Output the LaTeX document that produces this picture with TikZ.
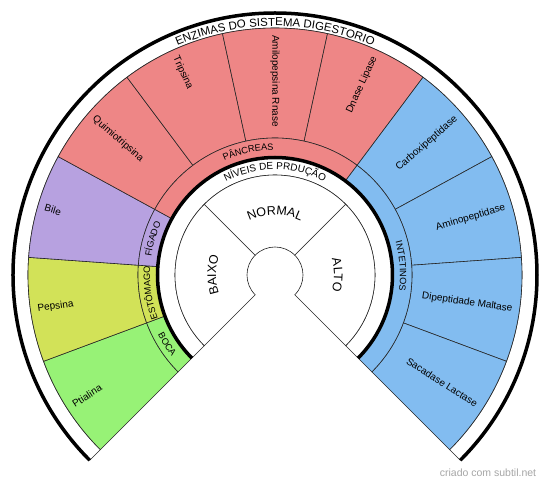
\documentclass[tikz,border=0pt]{standalone}
\usepackage{fontspec}
\setmainfont{Liberation Sans}
\usetikzlibrary{decorations.text}
\definecolor{cgreen}{HTML}{97F276}
\definecolor{cyellow}{HTML}{D2E258}
\definecolor{clav}{HTML}{B7A1E0}
\definecolor{csalmon}{HTML}{EE8686}
\definecolor{cblue}{HTML}{82BCF0}
\newcommand\ftitle{\fontsize{11.5}{12}\selectfont}
\newcommand\fniv{\fontsize{10}{11}\selectfont}
\newcommand\forg{\fontsize{9.2}{10}\selectfont}
\newcommand\flvl{\fontsize{12.5}{13}\selectfont}
% sector: a1 a2 r1 r2 fill
\newcommand\ringsec[5]{\draw[sl,fill=#5] (#1:#3pt) arc[start angle=#1,end angle=#2,radius=#3pt] -- (#2:#4pt) arc[start angle=#2,end angle=#1,radius=#4pt] -- cycle;}
% clockwise text: centre angle, half span, baseline radius, font, text
\newcommand\cwtext[5]{\path[decorate,decoration={text along path,text align=center,text={|#4|#5}}] ({#1+#2}:#3pt) arc[start angle={#1+#2},end angle={#1-#2},radius=#3pt];}
\newcommand\ccwtext[5]{\path[decorate,decoration={text along path,text align=center,text={|#4|#5}}] ({#1-#2}:#3pt) arc[start angle={#1-#2},end angle={#1+#2},radius=#3pt];}
\begin{document}
\begin{tikzpicture}[x=1pt,y=1pt,
  sl/.style={draw=black!85,line width=0.6pt},
  thick arc/.style={line width=3.5pt,draw=black},
  enzl/.style={font=\fontsize{10}{12}\selectfont,inner sep=0pt,anchor=west},
  enzr/.style={font=\fontsize{10}{12}\selectfont,inner sep=0pt,anchor=east}]
\fill[white] (-275,-207) rectangle (275,275);
\useasboundingbox (-275,-207) rectangle (275,275);
% title band
\ringsec{225}{-45}{247}{262}{white}
\draw[thick arc] (225:262pt) arc[start angle=225,end angle=-45,radius=262pt];
% enzyme ring
\ringsec{225}{200.4545}{137}{247}{cgreen}
\ringsec{200.4545}{175.9091}{137}{247}{cyellow}
\ringsec{175.9091}{151.3636}{137}{247}{clav}
\ringsec{151.3636}{126.8182}{137}{247}{csalmon}
\ringsec{126.8182}{102.2727}{137}{247}{csalmon}
\ringsec{102.2727}{77.7273}{137}{247}{csalmon}
\ringsec{77.7273}{53.1818}{137}{247}{csalmon}
\ringsec{53.1818}{28.6364}{137}{247}{cblue}
\ringsec{28.6364}{4.0909}{137}{247}{cblue}
\ringsec{4.0909}{-20.4545}{137}{247}{cblue}
\ringsec{-20.4545}{-45}{137}{247}{cblue}
% organ ring
\ringsec{225}{200.4545}{118}{137}{cgreen}
\ringsec{200.4545}{175.9091}{118}{137}{cyellow}
\ringsec{175.9091}{151.3636}{118}{137}{clav}
\ringsec{151.3636}{53.1818}{118}{137}{csalmon}
\ringsec{53.1818}{-45}{118}{137}{cblue}
% levels band
\ringsec{225}{-45}{100}{118}{white}
\draw[thick arc] (225:117.5pt) arc[start angle=225,end angle=-45,radius=117.5pt];
% level sectors
\ringsec{225}{135}{28}{100}{white}
\ringsec{135}{45}{28}{100}{white}
\ringsec{45}{-45}{28}{100}{white}
% enzyme labels
\node[enzl,rotate=32.7273] (ptialina) at (212.7273:240pt) {Ptialina};
\node[enzl,rotate=8.1818] (pepsina) at (188.1818:240pt) {Pepsina};
\node[enzl,rotate=-16.3636] (bile) at (163.6364:240pt) {Bile};
\node[enzl,rotate=-40.9091] (quimio) at (139.0909:240pt) {Quimiotripsina};
\node[enzl,rotate=-65.4545] (tripsina) at (114.5455:240pt) {Tripsina};
\node[enzl,rotate=-90] (amilo) at (90:240pt) {Amilopepsina Rnase};
\node[enzr,rotate=65.4545] (dnase) at (65.4545:240pt) {Dnase Lipase};
\node[enzr,rotate=40.9091] (carboxi) at (40.9091:240pt) {Carboxipeptidase};
\node[enzr,rotate=16.3636] (amino) at (16.3636:240pt) {Aminopeptidase};
\node[enzr,rotate=-8.1818] (dipep) at (-8.1818:240pt) {Dipeptidade Maltase};
\node[enzr,rotate=-32.7273] (sacad) at (-32.7273:240pt) {Sacadase Lactase};
% curved labels
\cwtext{90}{40}{249}{\ftitle}{ENZIMAS DO SISTEMA DIGESTORIO}
\cwtext{102.2727}{40}{125}{\forg}{PÂNCREAS}
\cwtext{163.6364}{40}{125}{\forg}{FÍGADO}
\cwtext{188.1818}{40}{125}{\forg}{ESTÔMAGO}
\ccwtext{212.7273}{40}{131.5}{\forg}{BOCA}
\cwtext{4.0909}{40}{125}{\forg}{INTETINOS}
\cwtext{90}{50}{105.5}{\fniv}{NÍVEIS DE PRDUÇÃO}
\cwtext{90}{60}{60}{\flvl}{NORMAL}
\cwtext{180}{60}{59}{\flvl}{BAIXO}
\cwtext{0}{60}{59}{\flvl}{ALTO}
% watermark
\node[text=black!35,font=\fontsize{10.5}{12}\selectfont,inner sep=0pt] (wm) at (213,-198) {criado com subtil.net};
\end{tikzpicture}
\end{document}
